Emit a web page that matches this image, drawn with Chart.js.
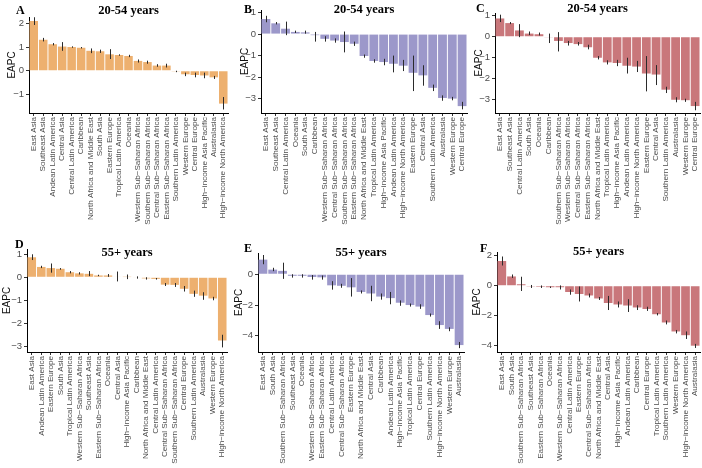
<!DOCTYPE html>
<html>
<head>
<meta charset="utf-8">
<script src="https://cdn.jsdelivr.net/npm/chart.js@4.4.1/dist/chart.umd.min.js"></script>
<style>
  body { margin: 0; background: #fff; width: 702px; height: 468px; position: relative; overflow: hidden; }
  canvas { position: absolute; }
</style>
</head>
<body>
<canvas id="cA" width="234" height="235" style="left:0;top:0"></canvas>
<canvas id="cB" width="234" height="235" style="left:234px;top:0"></canvas>
<canvas id="cC" width="234" height="235" style="left:468px;top:0"></canvas>
<canvas id="cD" width="234" height="233" style="left:0;top:235px"></canvas>
<canvas id="cE" width="234" height="233" style="left:234px;top:235px"></canvas>
<canvas id="cF" width="234" height="233" style="left:468px;top:235px"></canvas>
<script>
'use strict';

// Panel A: 20-54 years
const labelsA = ['East Asia', 'Southeast Asia', 'Andean Latin America', 'Central Asia', 'Central Latin America', 'Caribbean', 'North Africa and Middle East', 'South Asia', 'Eastern Europe', 'Tropical Latin America', 'Oceania', 'Western Sub−Saharan Africa', 'Southern Sub−Saharan Africa', 'Central Sub−Saharan Africa', 'Eastern Sub−Saharan Africa', 'Southern Latin America', 'Western Europe', 'Central Europe', 'High−income Asia Pacific', 'Australasia', 'High−income North America'];
const valuesA = [2.12, 1.32, 1.13, 1.03, 1.01, 0.98, 0.85, 0.83, 0.70, 0.67, 0.63, 0.42, 0.37, 0.22, 0.22, -0.03, -0.15, -0.18, -0.20, -0.28, -1.40];
const lowA = [1.95, 1.25, 1.08, 0.85, 0.98, 0.95, 0.75, 0.76, 0.50, 0.64, 0.58, 0.35, 0.30, 0.17, 0.14, -0.06, -0.23, -0.28, -0.32, -0.35, -1.65];
const highA = [2.28, 1.40, 1.18, 1.22, 1.04, 1.01, 0.95, 0.90, 0.92, 0.70, 0.68, 0.48, 0.43, 0.28, 0.30, 0.00, -0.08, -0.08, -0.08, -0.22, -1.12];

// Panel B: 20-54 years
const labelsB = ['East Asia', 'Southeast Asia', 'Central Latin America', 'Oceania', 'South Asia', 'Caribbean', 'Western Sub−Saharan Africa', 'Central Sub−Saharan Africa', 'Southern Sub−Saharan Africa', 'Eastern Sub−Saharan Africa', 'North Africa and Middle East', 'Tropical Latin America', 'High−income Asia Pacific', 'Andean Latin America', 'High−income North America', 'Eastern Europe', 'Central Asia', 'Southern Latin America', 'Australasia', 'Western Europe', 'Central Europe'];
const valuesB = [0.70, 0.50, 0.25, 0.10, 0.08, -0.05, -0.22, -0.30, -0.37, -0.45, -1.02, -1.25, -1.30, -1.38, -1.47, -1.80, -1.92, -2.50, -2.97, -3.00, -3.35];
const lowB = [0.55, 0.45, -0.05, 0.05, 0.02, -0.35, -0.35, -0.40, -0.85, -0.55, -1.10, -1.33, -1.45, -1.78, -1.72, -2.65, -2.40, -2.65, -3.10, -3.08, -3.50];
const highB = [0.85, 0.56, 0.58, 0.16, 0.16, 0.10, -0.10, -0.20, 0.12, -0.35, -0.95, -1.17, -1.15, -1.00, -1.20, -1.00, -1.45, -2.35, -2.85, -2.92, -3.15];

// Panel C: 20-54 years
const labelsC = ['East Asia', 'Southeast Asia', 'Central Latin America', 'South Asia', 'Oceania', 'Caribbean', 'Southern Sub−Saharan Africa', 'Western Sub−Saharan Africa', 'Central Sub−Saharan Africa', 'Eastern Sub−Saharan Africa', 'North Africa and Middle East', 'Tropical Latin America', 'High−income Asia Pacific', 'Andean Latin America', 'High−income North America', 'Eastern Europe', 'Central Asia', 'Southern Latin America', 'Australasia', 'Western Europe', 'Central Europe'];
const valuesC = [0.87, 0.65, 0.30, 0.15, 0.12, -0.03, -0.20, -0.30, -0.35, -0.50, -1.00, -1.22, -1.25, -1.38, -1.42, -1.75, -1.80, -2.52, -3.00, -3.02, -3.30];
const lowC = [0.70, 0.60, -0.02, 0.08, 0.06, -0.30, -0.70, -0.42, -0.42, -0.60, -1.08, -1.32, -1.40, -1.75, -1.68, -2.60, -2.30, -2.68, -3.12, -3.10, -3.50];
const highC = [1.05, 0.70, 0.60, 0.25, 0.20, 0.15, 0.22, -0.20, -0.25, -0.38, -0.92, -1.12, -1.10, -1.00, -1.15, -0.92, -1.35, -2.38, -2.88, -2.95, -3.10];

// Panel D: 55+ years
const labelsD = ['East Asia', 'Andean Latin America', 'Eastern Europe', 'South Asia', 'Tropical Latin America', 'Western Sub−Saharan Africa', 'Southeast Asia', 'Eastern Sub−Saharan Africa', 'Oceania', 'Central Asia', 'High−income Asia Pacific', 'Caribbean', 'North Africa and Middle East', 'Central Latin America', 'Central Sub−Saharan Africa', 'Southern Sub−Saharan Africa', 'Central Europe', 'Southern Latin America', 'Australasia', 'Western Europe', 'High−income North America'];
const valuesD = [0.87, 0.45, 0.40, 0.37, 0.22, 0.17, 0.15, 0.08, 0.08, 0.02, 0.01, -0.02, -0.05, -0.07, -0.32, -0.33, -0.50, -0.72, -0.80, -0.92, -2.75];
const lowD = [0.75, 0.40, 0.20, 0.33, 0.17, 0.12, 0.05, 0.05, 0.02, -0.18, -0.08, -0.06, -0.10, -0.10, -0.38, -0.42, -0.62, -0.85, -0.98, -1.00, -3.05];
const highD = [1.00, 0.50, 0.60, 0.40, 0.27, 0.22, 0.27, 0.11, 0.14, 0.25, 0.12, 0.04, 0.00, -0.03, -0.25, -0.25, -0.38, -0.58, -0.65, -0.85, -2.50];

// Panel E: 55+ years
const labelsE = ['East Asia', 'South Asia', 'Southern Sub−Saharan Africa', 'Southeast Asia', 'Oceania', 'Western Sub−Saharan Africa', 'Eastern Sub−Saharan Africa', 'Central Latin America', 'Central Sub−Saharan Africa', 'Eastern Europe', 'North Africa and Middle East', 'Central Asia', 'Caribbean', 'Andean Latin America', 'High−income Asia Pacific', 'Tropical Latin America', 'Central Europe', 'Southern Latin America', 'High−income North America', 'Western Europe', 'Australasia'];
const valuesE = [0.95, 0.30, 0.22, -0.10, -0.10, -0.18, -0.20, -0.72, -0.75, -0.85, -1.15, -1.25, -1.45, -1.55, -1.85, -2.00, -2.10, -2.65, -3.30, -3.55, -4.60];
const lowE = [0.65, 0.20, -0.30, -0.22, -0.22, -0.35, -0.35, -1.00, -0.88, -1.45, -1.25, -1.75, -1.65, -1.95, -2.05, -2.10, -2.25, -2.75, -3.55, -3.70, -4.80];
const highE = [1.25, 0.42, 0.75, 0.00, 0.00, -0.05, -0.08, -0.45, -0.62, -0.25, -1.05, -0.75, -1.25, -1.15, -1.70, -1.90, -1.95, -2.55, -3.05, -3.45, -4.40];

// Panel F: 55+ years
const labelsF = ['East Asia', 'South Asia', 'Southern Sub−Saharan Africa', 'Southeast Asia', 'Eastern Sub−Saharan Africa', 'Oceania', 'Western Sub−Saharan Africa', 'Central Latin America', 'Eastern Europe', 'Central Sub−Saharan Africa', 'North Africa and Middle East', 'Central Asia', 'High−income Asia Pacific', 'Andean Latin America', 'Caribbean', 'Central Europe', 'Tropical Latin America', 'Southern Latin America', 'Western Europe', 'High−income North America', 'Australasia'];
const valuesF = [1.65, 0.62, 0.10, -0.05, -0.07, -0.10, -0.10, -0.42, -0.55, -0.65, -0.85, -1.15, -1.25, -1.32, -1.45, -1.55, -1.90, -2.45, -3.05, -3.30, -4.00];
const lowF = [1.35, 0.52, -0.35, -0.15, -0.15, -0.15, -0.25, -0.60, -1.05, -0.78, -0.95, -1.62, -1.45, -1.75, -1.62, -1.68, -1.98, -2.58, -3.18, -3.55, -4.15];
const highF = [1.95, 0.75, 0.60, 0.05, 0.02, -0.05, 0.02, -0.25, -0.05, -0.52, -0.75, -0.68, -1.05, -0.90, -1.30, -1.40, -1.82, -2.32, -2.95, -3.05, -3.88];

const ORANGE = '#EDB06F';
const PURPLE = '#9C98CA';
const RED = '#C9777B';

// panel layout: axis width, paddings, x-axis height, y range
const panels = [
  {id: 'cA', letter: 'A', title: '20-54 years', labels: labelsA, values: valuesA, low: lowA, high: highA, color: ORANGE,
   yw: 29, top: 17, right: 6, xh: 122, min: -1.8, max: 2.29, step: 1, titlePad: 7, letterX: 16, letterY: 11, titleY: 11},
  {id: 'cB', letter: 'B', title: '20-54 years', labels: labelsB, values: valuesB, low: lowB, high: highB, color: PURPLE,
   yw: 27, top: 10, right: 1, xh: 122, min: -3.67, max: 1.12, step: 1, titlePad: 6, letterX: 10, letterY: 10, titleY: 9.5},
  {id: 'cC', letter: 'C', title: '20-54 years', labels: labelsC, values: valuesC, low: lowC, high: highC, color: RED,
   yw: 27, top: 13, right: 2, xh: 122, min: -3.63, max: 1.13, step: 1, titlePad: 6, letterX: 8, letterY: 9, titleY: 8.5},
  {id: 'cD', letter: 'D', title: '55+ years', labels: labelsD, values: valuesD, low: lowD, high: highD, color: ORANGE,
   yw: 27, top: 14, right: 7, xh: 116, min: -3.25, max: 1.23, step: 1, titlePad: 2.5, letterX: 15, letterY: 10, titleY: 17.5},
  {id: 'cE', letter: 'E', title: '55+ years', labels: labelsE, values: valuesE, low: lowE, high: highE, color: PURPLE,
   yw: 24, top: 18, right: 4, xh: 116, min: -5.05, max: 1.38, step: 2, titlePad: 0.5, letterX: 10, letterY: 13.5, titleY: 17.5},
  {id: 'cF', letter: 'F', title: '55+ years', labels: labelsF, values: valuesF, low: lowF, high: highF, color: RED,
   yw: 29, top: 17, right: 2, xh: 116, min: -4.42, max: 2.25, step: 2, titlePad: 4, letterX: 12, letterY: 13.5, titleY: 17}
];

//Thin vertical error bars at each bar centre
const errorBars = {
  id: 'errorBars',
  afterDatasetsDraw(chart, args, opts) {
    const ctx = chart.ctx;
    const y = chart.scales.y;
    const meta = chart.getDatasetMeta(0);
    ctx.save();
    ctx.strokeStyle = '#2b2b2b';
    ctx.lineWidth = 1;
    meta.data.forEach((bar, i) => {
      const x = Math.round(bar.x) + 0.5;
      ctx.beginPath();
      ctx.moveTo(x, y.getPixelForValue(opts.low[i]));
      ctx.lineTo(x, y.getPixelForValue(opts.high[i]));
      ctx.stroke();
    });
    ctx.restore();
  }
};

//Panel letter and title above the plot
const panelText = {
  id: 'panelText',
  afterDraw(chart, args, opts) {
    const ctx = chart.ctx;
    const area = chart.chartArea;
    ctx.save();
    ctx.fillStyle = '#000';
    ctx.textBaseline = 'middle';
    ctx.font = 'bold 12px "Liberation Serif", "Times New Roman", serif';
    ctx.textAlign = 'left';
    ctx.fillText(opts.letter, opts.letterX, opts.letterY);
    ctx.font = 'bold 12.5px "Liberation Serif", "Times New Roman", serif';
    ctx.textAlign = 'center';
    ctx.fillText(opts.title, (area.left + area.right) / 2, opts.titleY);
    ctx.restore();
  }
};

const minus = v => (v < 0 ? '−' + Math.abs(v) : String(v));

panels.forEach(p => {
  new Chart(document.getElementById(p.id), {
    type: 'bar',
    data: {
      labels: p.labels,
      datasets: [{
        data: p.values,
        backgroundColor: p.color,
        borderWidth: 0,
        barPercentage: 0.9,
        categoryPercentage: 1
      }]
    },
    options: {
      responsive: false,
      animation: false,
      devicePixelRatio: 1,
      layout: {padding: {top: p.top, right: p.right, left: 0, bottom: 0}},
      plugins: {
        legend: {display: false},
        tooltip: {enabled: false},
        errorBars: {low: p.low, high: p.high},
        panelText: {letter: p.letter, title: p.title, letterX: p.letterX, letterY: p.letterY, titleY: p.titleY}
      },
      scales: {
        x: {
          offset: true,
          grid: {display: true, drawOnChartArea: false, drawTicks: true, tickLength: 3, color: '#333', offset: false},
          border: {display: true, color: '#000', width: 1},
          ticks: {
            autoSkip: false, minRotation: 90, maxRotation: 90, padding: 1,
            color: '#4d4d4d', font: {family: '"Liberation Sans", Arial, sans-serif', size: 8.1}
          },
          afterFit: s => { s.height = p.xh; s.paddingLeft = 0; s.paddingRight = 0; }
        },
        y: {
          min: p.min, max: p.max,
          grid: {display: true, drawOnChartArea: false, drawTicks: true, tickLength: 3, color: '#333'},
          border: {display: true, color: '#000', width: 1},
          ticks: {
            stepSize: p.step, includeBounds: false, padding: 2,
            color: '#4d4d4d', font: {family: '"Liberation Sans", Arial, sans-serif', size: 9.5},
            callback: minus
          },
          title: {
            display: true, text: 'EAPC', color: '#111', padding: {top: p.titlePad, bottom: 0},
            font: {family: '"Liberation Sans", Arial, sans-serif', size: 10, lineHeight: 1}
          },
          afterFit: s => { s.width = p.yw; s.paddingTop = 0; s.paddingBottom = 0; }
        }
      }
    },
    plugins: [errorBars, panelText]
  });
});
</script>
</body>
</html>
